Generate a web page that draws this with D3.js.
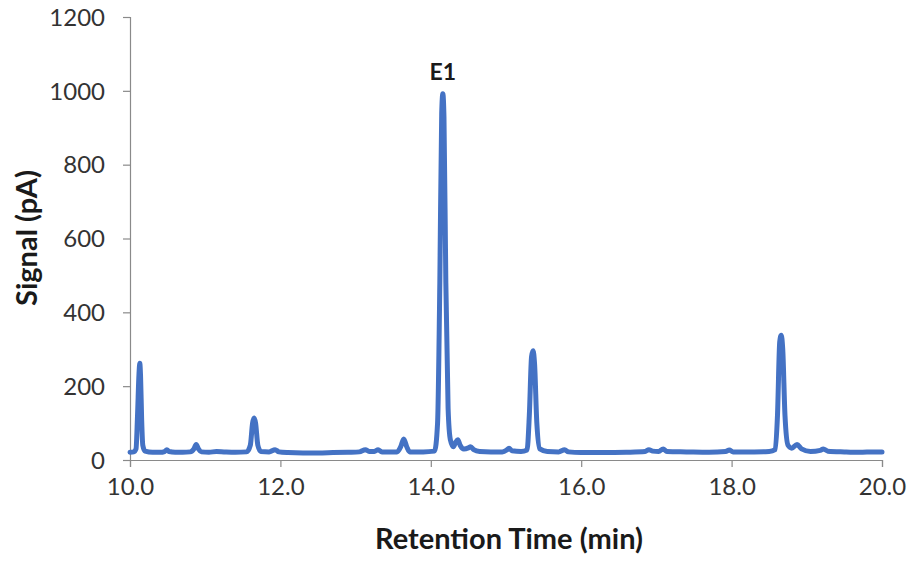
<!DOCTYPE html>
<html>
<head>
<meta charset="utf-8">
<script src="https://cdn.jsdelivr.net/npm/d3@7"></script>
<style>
  body { margin: 0; background: #fff; }
  svg { display: block; }
  .tick text { font-family: Lato, "Open Sans", sans-serif; font-size: 24px; fill: #333; }
  .axis path, .axis line { stroke: #8a8a8a; stroke-width: 1.2; }
  .title { font-family: Lato, sans-serif; font-weight: bold; fill: #1a1a1a; }
</style>
</head>
<body>
<div id="chart"></div>
<script>
// retention time (min) and detector signal (pA)
var times = [10.00, 10.05, 10.08, 10.10, 10.12, 10.13, 10.14, 10.155, 10.17, 10.20,
  10.30, 10.40, 10.46, 10.49, 10.52, 10.60, 10.70, 10.80, 10.85, 10.88, 10.91, 10.95,
  11.05, 11.15, 11.25, 11.40, 11.55, 11.60, 11.63, 11.65, 11.67, 11.70, 11.74, 11.85,
  11.93, 11.98, 12.10, 12.30, 12.50, 12.70, 12.90, 13.05, 13.13, 13.18, 13.25, 13.30,
  13.35, 13.55, 13.60, 13.64, 13.68, 13.72, 13.90, 14.05, 14.09, 14.12, 14.145, 14.16,
  14.175, 14.20, 14.23, 14.26, 14.30, 14.33, 14.36, 14.39, 14.44, 14.50, 14.53, 14.57,
  14.65, 14.80, 14.95, 15.01, 15.04, 15.08, 15.20, 15.28, 15.31, 15.34, 15.36, 15.38,
  15.41, 15.45, 15.55, 15.70, 15.78, 15.83, 16.00, 16.30, 16.60, 16.85, 16.90, 16.95,
  17.03, 17.09, 17.14, 17.40, 17.70, 17.92, 17.97, 18.02, 18.30, 18.50, 18.58, 18.61,
  18.64, 18.66, 18.68, 18.71, 18.75, 18.80, 18.87, 18.93, 19.05, 19.18, 19.22, 19.28,
  19.50, 19.70, 19.90, 20.00]
var signal = [21, 22, 30, 120, 235, 262, 230, 110, 40, 24,
  21, 21, 23, 28, 23, 21, 21, 22, 30, 42, 30, 22,
  21, 23, 22, 21, 22, 40, 100, 114, 100, 40, 23, 22,
  28, 22, 20, 19, 19, 20, 21, 22, 28, 23, 23, 28,
  22, 22, 36, 57, 36, 22, 22, 24, 100, 480, 940, 992,
  930, 480, 140, 55, 36, 48, 55, 40, 30, 33, 36, 28,
  23, 22, 22, 27, 32, 25, 23, 27, 120, 280, 296, 260,
  100, 30, 23, 22, 28, 22, 20, 20, 21, 23, 28, 24,
  23, 30, 23, 22, 21, 23, 27, 22, 22, 23, 28, 120,
  320, 338, 300, 120, 40, 32, 42, 30, 23, 26, 30, 24,
  22, 21, 22, 22]

var xTicks = [10, 12, 14, 16, 18, 20]
var yTicks = [0, 200, 400, 600, 800, 1000, 1200]
var peakLabel = { name: "E1", time: 14.16, value: 992 }

var W = 912, H = 561
var margin = { top: 17, right: 30, bottom: 101, left: 130 }

var svg = d3.select("#chart").append("svg")
  .attr("width", W)
  .attr("height", H)

var x = d3.scaleLinear().domain([10, 20]).range([margin.left, W - margin.right])
var y = d3.scaleLinear().domain([0, 1200]).range([H - margin.bottom, margin.top])

// axes
svg.append("g")
  .attr("class", "axis")
  .attr("transform", "translate(0," + y(0) + ")")
  .call(d3.axisBottom(x).tickValues(xTicks).tickFormat(d3.format(".1f")).tickSizeOuter(0).tickSize(7).tickPadding(11))
var yAxis = svg.append("g")
  .attr("class", "axis")
  .attr("transform", "translate(" + x(10) + ",0)")
  .call(d3.axisLeft(y).tickValues(yTicks).tickFormat(d3.format("d")).tickSizeOuter(0).tickSize(7).tickPadding(18))
yAxis.selectAll(".tick text").attr("dy", "0.34em")

// the trace
var data = times.map(function(t, i) { return { t: t, v: signal[i] } })
var line = d3.line()
  .x(function(d) { return x(d.t) })
  .y(function(d) { return y(d.v) })
  .curve(d3.curveMonotoneX)
svg.append("path")
  .datum(data)
  .attr("d", line)
  .attr("fill", "none")
  .attr("stroke", "#4472c4")
  .attr("stroke-width", 5)
  .attr("stroke-linejoin", "round")
  .attr("stroke-linecap", "round")

// peak label
svg.append("text")
  .attr("class", "title")
  .attr("x", x(peakLabel.time))
  .attr("y", 80)
  .attr("text-anchor", "middle")
  .style("font-size", "23px")
  .text(peakLabel.name)

// axis titles
svg.append("text")
  .attr("class", "title")
  .attr("x", (x(10) + x(20)) / 2 + 3)
  .attr("y", 549)
  .attr("text-anchor", "middle")
  .style("font-size", "29px")
  .text("Retention Time (min)")
svg.append("text")
  .attr("class", "title")
  .attr("transform", "translate(37,238) rotate(-90)")
  .attr("text-anchor", "middle")
  .style("font-size", "29px")
  .text("Signal (pA)")
</script>
</body>
</html>
